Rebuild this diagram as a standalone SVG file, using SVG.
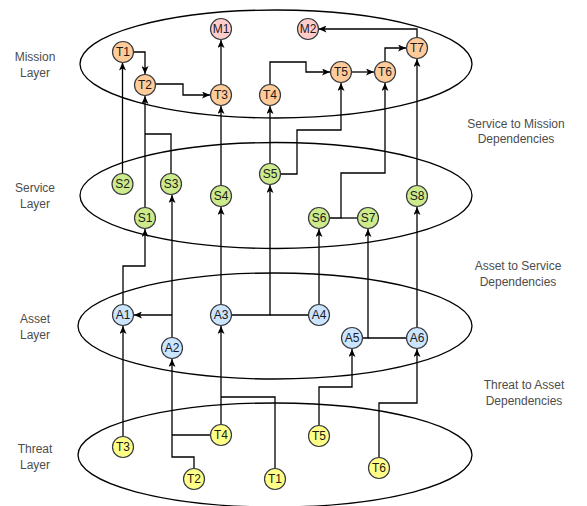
<svg xmlns="http://www.w3.org/2000/svg" width="587" height="506" viewBox="0 0 587 506">
  <style>
    .layer { fill: none; stroke: #000; stroke-width: 1.3; }
    .edge { fill: none; stroke: #000; stroke-width: 1.3; marker-end: url(#arrow); }
    .join { fill: none; stroke: #000; stroke-width: 1.3; }
    .node circle { stroke: #36393d; stroke-width: 1.2; }
    .node text { font-family: "Liberation Sans", Arial, sans-serif; font-size: 12px; fill: #1a1a1a; text-anchor: middle; }
    .mission circle { fill: #ffcccc; }
    .task circle { fill: #ffcc99; }
    .service circle { fill: #cdeb8b; }
    .asset circle { fill: #cce5ff; }
    .threat circle { fill: #ffff88; }
    .label { font-family: "Liberation Sans", Arial, sans-serif; font-size: 12px; fill: #4d4d4d; text-anchor: middle; }
  </style>
  <defs>
    <marker id="arrow" viewBox="0 0 8 7" refX="8" refY="3.5" markerWidth="8" markerHeight="7" markerUnits="userSpaceOnUse" orient="auto">
      <path d="M0,0 L8,3.5 L0,7 L2,3.5 z" fill="#000"/>
    </marker>
  </defs>

  <rect width="587" height="506" fill="#fff"/>

  <!-- layer ellipses -->
  <g id="layers">
    <ellipse class="layer" cx="276" cy="64" rx="196" ry="54"/>
    <ellipse class="layer" cx="276" cy="195.5" rx="196" ry="53"/>
    <ellipse class="layer" cx="275" cy="326" rx="197" ry="53"/>
    <ellipse class="layer" cx="275" cy="455" rx="197" ry="52"/>
  </g>

  <!-- layer names -->
  <g id="layer-labels">
    <text class="label" x="35" y="61">Mission</text>
    <text class="label" x="35" y="77">Layer</text>
    <text class="label" x="35" y="192">Service</text>
    <text class="label" x="35" y="208">Layer</text>
    <text class="label" x="35" y="323">Asset</text>
    <text class="label" x="35" y="339">Layer</text>
    <text class="label" x="35" y="453">Threat</text>
    <text class="label" x="35" y="469">Layer</text>
  </g>

  <!-- dependency captions -->
  <g id="dependency-labels">
    <text class="label" x="516" y="128">Service to Mission</text>
    <text class="label" x="516" y="143">Dependencies</text>
    <text class="label" x="518" y="270">Asset to Service</text>
    <text class="label" x="518" y="286">Dependencies</text>
    <text class="label" x="524" y="389">Threat to Asset</text>
    <text class="label" x="524" y="405">Dependencies</text>
  </g>

  <!-- connectors -->
  <g id="connectors">
    <!-- mission layer -->
    <path class="edge" d="M133.5 52 H145 V74"/>
    <path class="edge" d="M155.5 84 H183 V95 H210"/>
    <path class="edge" d="M221 84 V40"/>
    <path class="edge" d="M270 84 V62 H306 V72 H330"/>
    <path class="edge" d="M351.5 72 H374"/>
    <path class="edge" d="M385 61 V48 H406"/>
    <path class="edge" d="M417 37 V29 H318.5"/>
    <!-- service to mission -->
    <path class="edge" d="M122.5 173 V62.5"/>
    <path class="edge" d="M145 207 V96"/>
    <path class="join" d="M171 173 V134 H145"/>
    <path class="edge" d="M221 185 V106"/>
    <path class="edge" d="M270 163.5 V106"/>
    <path class="edge" d="M281 174 H297 V130 H341 V83"/>
    <path class="edge" d="M330 218 H341 V173 H385 V83"/>
    <path class="join" d="M357.5 218 H341"/>
    <path class="edge" d="M417 185 V59"/>
    <!-- asset to service -->
    <path class="edge" d="M123 304.5 V266 H145 V229"/>
    <path class="edge" d="M172 337.5 V195"/>
    <path class="edge" d="M172 315 H134"/>
    <path class="edge" d="M221 304.5 V207"/>
    <path class="edge" d="M231.5 315 H270 V185"/>
    <path class="join" d="M308.5 315 H270"/>
    <path class="edge" d="M319 304.5 V229"/>
    <path class="edge" d="M362.5 338 H368 V229"/>
    <path class="join" d="M406 338 H368"/>
    <path class="edge" d="M417 327 V207"/>
    <!-- threat to asset -->
    <path class="edge" d="M123 436 V326"/>
    <path class="edge" d="M194 468.5 V457 H172 V359"/>
    <path class="join" d="M210.5 435 H172"/>
    <path class="edge" d="M221 424.5 V326"/>
    <path class="join" d="M275 468.5 V397 H221"/>
    <path class="edge" d="M319 425.5 V387 H352 V349"/>
    <path class="edge" d="M379 457.5 V403 H417 V349"/>
  </g>

  <!-- mission layer nodes -->
  <g id="M1" class="node mission"><circle cx="221" cy="29" r="10.5"/><text x="221" y="33">M1</text></g>
  <g id="M2" class="node mission"><circle cx="308" cy="29" r="10.5"/><text x="308" y="33">M2</text></g>
  <g id="T1m" class="node task"><circle cx="123" cy="52" r="10.5"/><text x="123" y="56">T1</text></g>
  <g id="T2m" class="node task"><circle cx="145" cy="85" r="10.5"/><text x="145" y="89">T2</text></g>
  <g id="T3m" class="node task"><circle cx="221" cy="95" r="10.5"/><text x="221" y="99">T3</text></g>
  <g id="T4m" class="node task"><circle cx="270" cy="95" r="10.5"/><text x="270" y="99">T4</text></g>
  <g id="T5m" class="node task"><circle cx="341" cy="72" r="10.5"/><text x="341" y="76">T5</text></g>
  <g id="T6m" class="node task"><circle cx="385" cy="72" r="10.5"/><text x="385" y="76">T6</text></g>
  <g id="T7m" class="node task"><circle cx="417" cy="48" r="10.5"/><text x="417" y="52">T7</text></g>

  <!-- service layer nodes -->
  <g id="S1" class="node service"><circle cx="145" cy="218" r="10.5"/><text x="145" y="222">S1</text></g>
  <g id="S2" class="node service"><circle cx="122.5" cy="184" r="10.5"/><text x="122.5" y="188">S2</text></g>
  <g id="S3" class="node service"><circle cx="171" cy="184" r="10.5"/><text x="171" y="188">S3</text></g>
  <g id="S4" class="node service"><circle cx="221" cy="196" r="10.5"/><text x="221" y="200">S4</text></g>
  <g id="S5" class="node service"><circle cx="270" cy="174" r="10.5"/><text x="270" y="178">S5</text></g>
  <g id="S6" class="node service"><circle cx="319" cy="218" r="10.5"/><text x="319" y="222">S6</text></g>
  <g id="S7" class="node service"><circle cx="368" cy="218" r="10.5"/><text x="368" y="222">S7</text></g>
  <g id="S8" class="node service"><circle cx="417" cy="196" r="10.5"/><text x="417" y="200">S8</text></g>

  <!-- asset layer nodes -->
  <g id="A1" class="node asset"><circle cx="123" cy="315" r="10.5"/><text x="123" y="319">A1</text></g>
  <g id="A2" class="node asset"><circle cx="172" cy="348" r="10.5"/><text x="172" y="352">A2</text></g>
  <g id="A3" class="node asset"><circle cx="221" cy="315" r="10.5"/><text x="221" y="319">A3</text></g>
  <g id="A4" class="node asset"><circle cx="319" cy="315" r="10.5"/><text x="319" y="319">A4</text></g>
  <g id="A5" class="node asset"><circle cx="352" cy="338" r="10.5"/><text x="352" y="342">A5</text></g>
  <g id="A6" class="node asset"><circle cx="417" cy="338" r="10.5"/><text x="417" y="342">A6</text></g>

  <!-- threat layer nodes -->
  <g id="T1t" class="node threat"><circle cx="275" cy="479" r="10.5"/><text x="275" y="483">T1</text></g>
  <g id="T2t" class="node threat"><circle cx="194" cy="479" r="10.5"/><text x="194" y="483">T2</text></g>
  <g id="T3t" class="node threat"><circle cx="123" cy="447" r="10.5"/><text x="123" y="451">T3</text></g>
  <g id="T4t" class="node threat"><circle cx="221" cy="435" r="10.5"/><text x="221" y="439">T4</text></g>
  <g id="T5t" class="node threat"><circle cx="319" cy="436" r="10.5"/><text x="319" y="440">T5</text></g>
  <g id="T6t" class="node threat"><circle cx="379" cy="468" r="10.5"/><text x="379" y="472">T6</text></g>
</svg>
